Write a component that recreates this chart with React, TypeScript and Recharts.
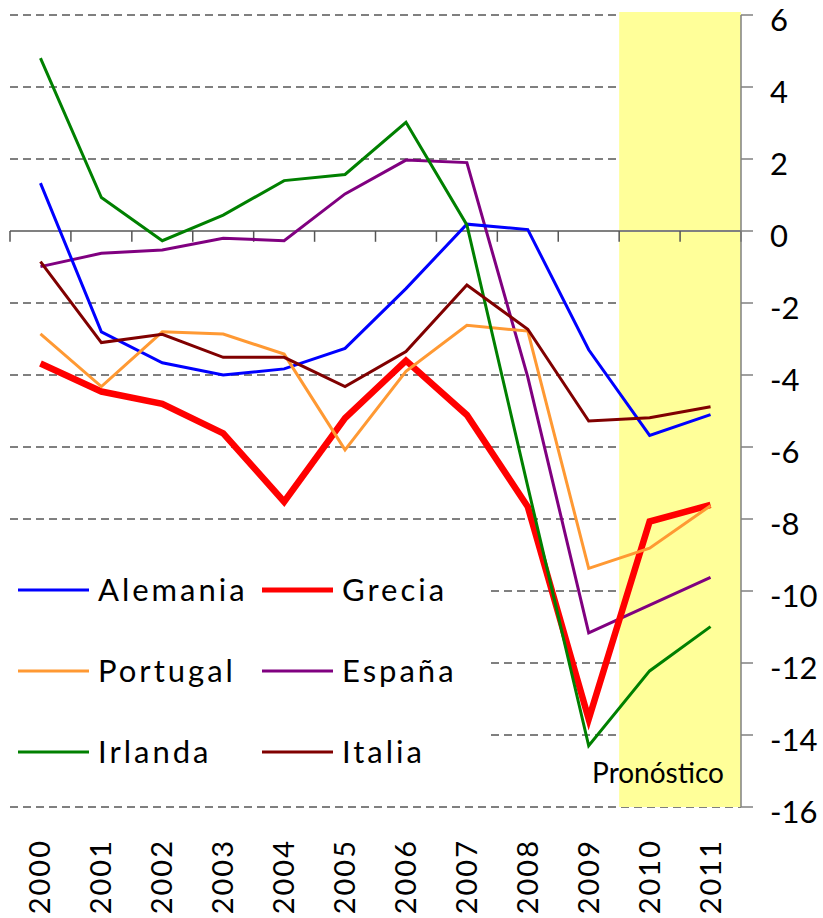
import React from 'react';
import { LineChart, Line, XAxis, YAxis, CartesianGrid, ReferenceArea, ReferenceLine, Legend } from 'recharts';

const years = ['2000', '2001', '2002', '2003', '2004', '2005', '2006', '2007', '2008', '2009', '2010', '2011'];
const alemania = [1.33, -2.8, -3.66, -4.0, -3.83, -3.26, -1.6, 0.19, 0.04, -3.3, -5.68, -5.1];
const grecia = [-3.68, -4.46, -4.8, -5.62, -7.52, -5.2, -3.6, -5.11, -7.66, -13.56, -8.07, -7.61];
const portugal = [-2.86, -4.32, -2.8, -2.86, -3.42, -6.08, -3.9, -2.62, -2.78, -9.37, -8.81, -7.63];
const espana = [-0.99, -0.62, -0.53, -0.2, -0.27, 1.03, 1.97, 1.9, -4.06, -11.16, -10.39, -9.62];
const irlanda = [4.8, 0.93, -0.27, 0.44, 1.4, 1.57, 3.02, 0.17, -7.1, -14.3, -12.22, -10.99];
const italia = [-0.85, -3.1, -2.87, -3.51, -3.51, -4.32, -3.35, -1.5, -2.73, -5.28, -5.19, -4.88];
const yTicks = [6, 4, 2, 0, -2, -4, -6, -8, -10, -12, -14, -16];
const forecastStart = '2010';
const forecastEnd = '2011';
const forecastLabel = 'Pronóstico';

const data = years.map((year, i) => ({
  year,
  Alemania: alemania[i],
  Grecia: grecia[i],
  Portugal: portugal[i],
  'España': espana[i],
  Irlanda: irlanda[i],
  Italia: italia[i],
}));

const FONT = 'Lato, "Open Sans", sans-serif';

const series = [
  { key: 'Alemania', color: '#0000FF', width: 3 },
  { key: 'Grecia', color: '#FF0000', width: 6.5 },
  { key: 'Portugal', color: '#FF9933', width: 3 },
  { key: 'España', color: '#800080', width: 3 },
  { key: 'Irlanda', color: '#008000', width: 3 },
  { key: 'Italia', color: '#800000', width: 3 },
];
const drawOrder = ['España', 'Alemania', 'Grecia', 'Portugal', 'Irlanda', 'Italia'];

const XTick = (props: any) => {
  const { x, y, payload } = props;
  return (
    <g transform={`translate(${x},${y})`}>
      <text transform="rotate(-90)" textAnchor="end" dy={10} fontSize={29} fontFamily={FONT} fill="#000" letterSpacing={2}>
        {payload.value}
      </text>
    </g>
  );
};

const YTick = (props: any) => {
  const { x, y, payload } = props;
  return (
    <text x={x} y={y} dy={16} textAnchor="start" fontSize={31} fontFamily={FONT} fill="#000">
      {payload.value}
    </text>
  );
};

const LegendContent = () => (
  <div
    style={{
      display: 'grid',
      gridTemplateColumns: '244px 236px',
      gridAutoRows: '81px',
      paddingLeft: 8,
      paddingTop: 14,
      boxSizing: 'border-box',
      width: 480,
      height: 255,
      background: '#fff',
    }}
  >
    {series.map((s) => (
      <div key={s.key} style={{ display: 'flex', alignItems: 'center', height: 81 }}>
        <svg width={71} height={12} style={{ marginRight: 9, flex: 'none' }}>
          <line x1={0} y1={6} x2={71} y2={6} stroke={s.color} strokeWidth={s.width === 3 ? 3 : 5} strokeLinecap="round" />
        </svg>
        <span style={{ fontFamily: FONT, fontSize: 31, letterSpacing: 3, color: '#000', lineHeight: 1 }}>{s.key}</span>
      </div>
    ))}
  </div>
);

const ForecastLabel = (props: any) => {
  const vb = props.viewBox;
  return (
    <text x={vb.x + vb.width - 17} y={vb.y + vb.height - 24} textAnchor="end" fontSize={28} fontFamily={FONT} fill="#000">
      {forecastLabel}
    </text>
  );
};

export default function App() {
  return (
    <div style={{ position: 'absolute', left: 0, top: 0, width: 823, height: 918, background: '#fff' }}>
      <LineChart width={823} height={918} data={data} margin={{ top: 15, right: 0, left: 10, bottom: 11 }}>
        <ReferenceArea
          x1={forecastStart}
          x2={forecastEnd}
          y1={-16}
          y2={6.08}
          ifOverflow="visible"
          fill="#FFFF99"
          fillOpacity={1}
          stroke="none"
          label={<ForecastLabel />}
        />
        <CartesianGrid vertical={false} stroke="#000" strokeDasharray="8 5" strokeWidth={1} />
        <XAxis
          dataKey="year"
          scale="band"
          interval={0}
          tickLine={false}
          axisLine={false}
          tickSize={0}
          tickMargin={32}
          height={100}
          tick={<XTick />}
        />
        <YAxis
          orientation="right"
          width={82}
          domain={[-16, 6]}
          ticks={yTicks}
          interval={0}
          tickSize={12}
          tickMargin={17}
          axisLine={{ stroke: '#808080', strokeWidth: 1.5 }}
          tickLine={{ stroke: '#808080', strokeWidth: 1.5 }}
          tick={<YTick />}
        />
        <ReferenceLine y={0} stroke="#808080" strokeWidth={2} />
        {years.map((yr) => (
          <ReferenceLine
            key={'t' + yr}
            segment={[{ x: yr, y: 0 }, { x: yr, y: -0.3 }]}
            position="start"
            stroke="#555"
            strokeWidth={1.5}
          />
        ))}
        <ReferenceLine
          segment={[{ x: years[years.length - 1], y: 0 }, { x: years[years.length - 1], y: -0.3 }]}
          position="end"
          stroke="#555"
          strokeWidth={1.5}
        />
        <Legend
          layout="horizontal"
          verticalAlign="middle"
          align="center"
          wrapperStyle={{ left: 10, top: 535, width: 480, height: 255 }}
          content={<LegendContent />}
        />
        {drawOrder.map((k) => {
          const s = series.find((q) => q.key === k)!;
          return (
            <Line
              key={k}
              type="linear"
              dataKey={k}
              stroke={s.color}
              strokeWidth={s.width}
              dot={false}
              activeDot={false}
              isAnimationActive={false}
            />
          );
        })}
      </LineChart>
    </div>
  );
}
